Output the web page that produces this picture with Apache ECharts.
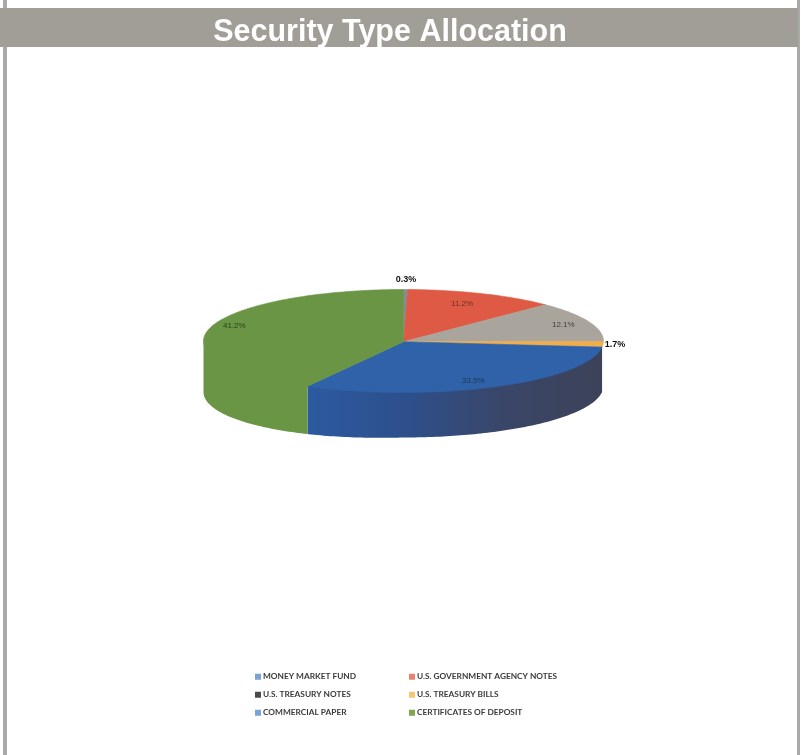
<!DOCTYPE html>
<html>
<head>
<meta charset="utf-8">
<style>html,body{margin:0;padding:0;background:#fff}#c{width:801px;height:755px;filter:blur(0.5px)}</style>
<script src="https://cdn.jsdelivr.net/npm/echarts@6/dist/echarts.min.js"></script>
</head>
<body>
<div id="c"></div>
<script>
const categories = ['MONEY MARKET FUND','U.S. GOVERNMENT AGENCY NOTES','U.S. TREASURY NOTES','U.S. TREASURY BILLS','COMMERCIAL PAPER','CERTIFICATES OF DEPOSIT'];
const shares = [0.3, 11.2, 12.1, 1.7, 33.5, 41.2];

// styling, kept apart from the data
const sliceColors = ['#7f8f9a','#de5a44','#a9a59c','#f2ad4b','#2f62a8','#6a9545'];
const legendColors = ['#7ba3d3','#e8826f','#4a4a4c','#f7c474','#7ba3d3','#7fa650'];
const sideColors = [null,null,null,null,['#2c5aa0','#2d4f8c','#3a4668','#3c4258'],['#6a9545','#6a9545']];
const labelRadius = [1.2, 0.74, 0.86, 1.06, 0.8, 0.86];
const labelDy = [0, -2, 0, 0, 3, -7];
const labelStyles = [
  {fill:'#111',font:'bold 9px "Liberation Sans"'},
  {fill:'#6e3026',font:'8px "Liberation Sans"'},
  {fill:'#3f3e3a',font:'8px "Liberation Sans"'},
  {fill:'#111',font:'bold 9px "Liberation Sans"'},
  {fill:'#1f3558',font:'8px "Liberation Sans"'},
  {fill:'#2c4219',font:'8px "Liberation Sans"'}
];
const CX = 403.5, CY = 341, RX = 200, RY = 51.5, DEPTH = 45, LEFT_EXTRA = 6, PERSPECTIVE = 0.1, WALL_OVERLAP = 1.5;

const total = shares.reduce((a,b)=>a+b,0);
function startOf(i){ let s=0; for(let k=0;k<i;k++) s+=shares[k]; return s/total*Math.PI*2; }
// the picture is a perspective view: angles on the rim drift towards the viewer
function warp(a){ return a + PERSPECTIVE*Math.sin(a); }
function pt(a,r,dy){ const w=warp(a); return [CX+RX*r*Math.sin(w), CY-RY*r*Math.cos(w)+(dy||0)]; }
function depthAt(a){ return DEPTH + LEFT_EXTRA*Math.max(0,-Math.sin(warp(a))); }
function isFront(a){ const w=warp(a); return w>=Math.PI/2 && w<=Math.PI*1.5; }

function renderSlice(params, api){
  const i = params.seriesIndex;
  const a0 = startOf(i), a1 = a0 + api.value(0)/total*Math.PI*2;
  const n = Math.max(4, Math.ceil((a1-a0)/0.02));
  const rim = [];
  for(let k=0;k<=n;k++) rim.push(a0+(a1-a0)*k/n);
  const top = [api.coord([CX,CY+0.7])].concat(rim.map(a=>api.coord(pt(a,1))));
  const children = [];
  if (sideColors[i]){
    const up=[], down=[];
    rim.filter(isFront).forEach(a=>{
      up.push(api.coord(pt(a,1,-WALL_OVERLAP)));
      down.unshift(api.coord(pt(a,1,depthAt(a))));
    });
    const stops = sideColors[i];
    children.push({type:'polygon',z2:1,shape:{points:up.concat(down)},
      style:{fill:new echarts.graphic.LinearGradient(1,0,0,0,stops.map((c,k)=>({offset:1-k/(stops.length-1),color:c}))),stroke:null}});
  }
  children.push({type:'polygon',z2:2,shape:{points:top},style:{fill:sliceColors[i],stroke:sliceColors[i],lineWidth:0.6}});
  const lp = api.coord(pt((a0+a1)/2,labelRadius[i],labelDy[i]));
  children.push({type:'text',z2:3,style:Object.assign({x:lp[0],y:lp[1],text:shares[i].toFixed(1)+'%',textAlign:'center',textVerticalAlign:'middle'},labelStyles[i])});
  return {type:'group',children};
}

const legendText = {fontFamily:'Lato',fontWeight:'bold',fontSize:8.3,color:'#3a3a3a'};
function legendAt(left, names){
  return {orient:'vertical',left,top:671,itemWidth:6,itemHeight:6,itemGap:6.5,icon:'rect',
    padding:0,textStyle:Object.assign({padding:[0,0,0,-3],height:11.5,lineHeight:11.5},legendText),data:names,selectedMode:false};
}

const option = {
  animation:false,
  backgroundColor:'#fff',
  grid:{left:0,top:0,width:801,height:755},
  xAxis:{type:'value',min:0,max:801,show:false},
  yAxis:{type:'value',min:0,max:755,inverse:true,show:false},
  title:{text:'Security Type Allocation',left:385,top:12,textAlign:'center',
    textStyle:{color:'#fff',fontFamily:'Liberation Sans',fontWeight:'bold',fontSize:30.5}},
  legend:[
    legendAt(255,[categories[0],categories[2],categories[4]]),
    legendAt(409,[categories[1],categories[3],categories[5]])
  ],
  graphic:[
    {type:'rect',z:-1,shape:{x:3,y:0,width:4,height:755},style:{fill:'#a9a9a9'}},
    {type:'rect',z:-1,shape:{x:797,y:0,width:3,height:755},style:{fill:'#a9a9a9'}},
    {type:'rect',z:-1,shape:{x:0,y:8,width:798,height:39},style:{fill:'#a19d97'}}
  ],
  series:categories.map((name,i)=>({
    type:'custom',name,coordinateSystem:'cartesian2d',
    itemStyle:{color:legendColors[i]},
    renderItem:renderSlice,
    clip:false,silent:true,
    encode:{x:0,y:0},
    data:[[shares[i]]]
  }))
};
echarts.init(document.getElementById('c'),null,{renderer:'canvas'}).setOption(option);
</script>
</body>
</html>
